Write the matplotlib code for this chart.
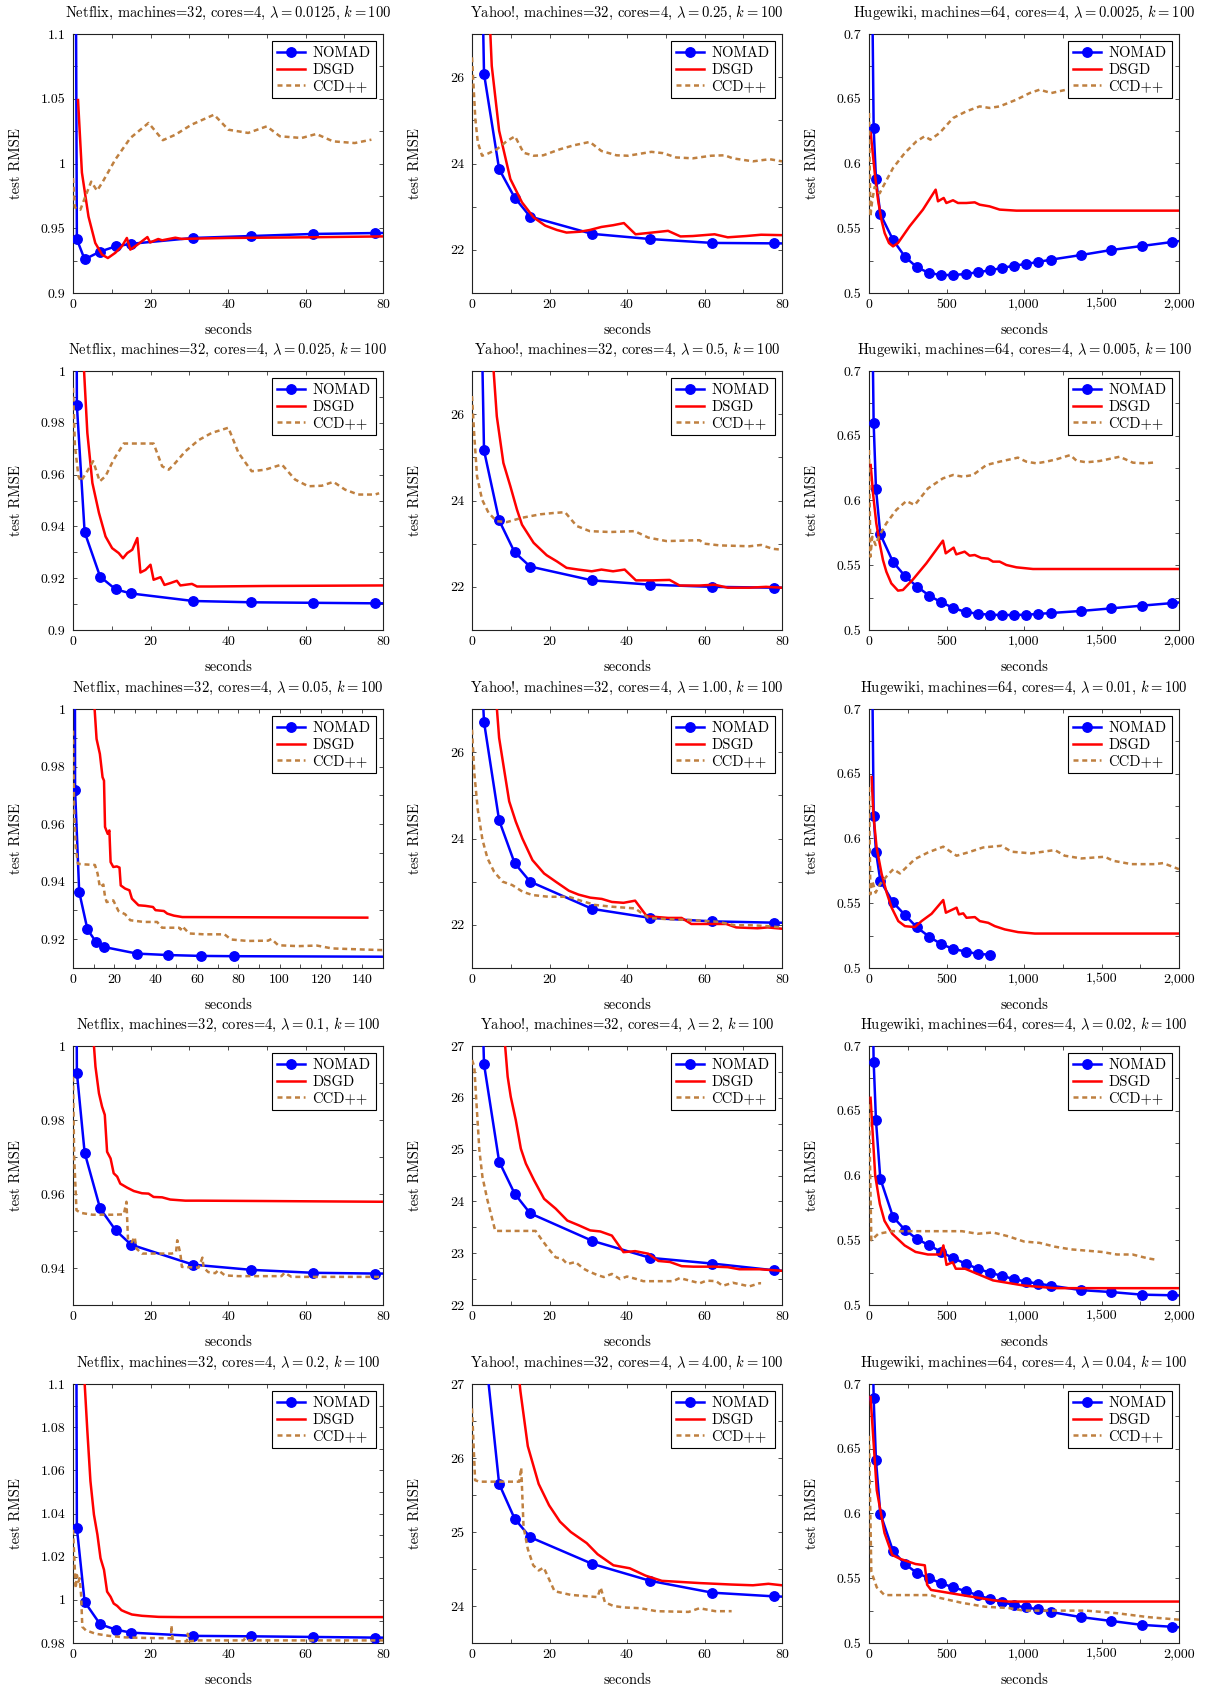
#!/usr/bin/env python3

"""Test RMSE vs. seconds for NOMAD, DSGD and CCD++ (Netflix, Yahoo!, Hugewiki)."""

import matplotlib
matplotlib.use('Agg')
import matplotlib.pyplot as plt
from matplotlib.ticker import MultipleLocator, FuncFormatter

# ---------------------------------------------------------------- data
# NOMAD is sampled at the same moments in every run of a data set
NF_NOMAD_T = [0.6, 1.0, 3.0, 7.0, 11.0, 15.0, 31.0, 46.0, 62.0, 78.0, 160.0]
YH_NOMAD_T = [2.4, 3.1, 7.0, 11.0, 15.0, 31.0, 46.0, 62.0, 78.0, 160.0]
HW_NOMAD_T = [15, 30, 45, 73, 155, 232, 310, 389, 466, 545, 623, 701, 779, 857,
              936, 1013, 1092, 1171, 1367, 1563, 1760, 1957, 2150]

# Netflix, lambda = 0.0125
nf1_nomad = [1.25, 0.9414, 0.926, 0.932, 0.936, 0.938, 0.9425, 0.944, 0.9456, 0.9463, 0.9475]
nf1_dsgd_t = [1.3, 2.3, 4.0, 5.75, 7.5, 9.0, 10.9, 12.6, 13.9, 14.8, 16.5, 19.2, 19.9, 22.0,
              23.0, 26.4, 28.0, 40.0, 60.0, 80.0]
nf1_dsgd = [1.049, 0.993, 0.959, 0.9386, 0.9296, 0.927, 0.931, 0.936, 0.9425, 0.9335, 0.937,
            0.9432, 0.939, 0.9417, 0.9407, 0.9427, 0.9418, 0.9425, 0.943, 0.9437]
nf1_ccd_t = [0, 0.5, 1.9, 3.2, 4.7, 6.2, 7.5, 10.9, 14.8, 19.5, 23.2, 26.4, 30.6, 36.4, 40.1,
             45.2, 50.0, 53.4, 59.0, 62.8, 67.1, 72.7, 77.0]
nf1_ccd = [0.9888, 0.966, 0.9643, 0.9746, 0.986, 0.979, 0.985, 1.003, 1.0197, 1.0313, 1.018,
           1.0222, 1.030, 1.0377, 1.0261, 1.0236, 1.0287, 1.021, 1.0197, 1.0228, 1.0171,
           1.0158, 1.0184]

# Netflix, lambda = 0.025
nf2_nomad = [1.2, 0.9868, 0.9378, 0.9206, 0.9157, 0.9141, 0.9112, 0.9107, 0.9105, 0.9103, 0.9100]
nf2_dsgd_t = [2.5, 3.7, 5.0, 6.7, 8.4, 10.1, 11.8, 12.9, 14.0, 15.3, 16.6, 17.4, 18.7, 20.0,
              20.8, 22.6, 23.6, 25.1, 26.8, 27.7, 30.7, 32.0, 35.8, 50.0, 80.0]
nf2_dsgd = [1.01, 0.9761, 0.9568, 0.9452, 0.9361, 0.9316, 0.9297, 0.9277, 0.9297, 0.931,
            0.9355, 0.9222, 0.9232, 0.9252, 0.9194, 0.9204, 0.9174, 0.9181, 0.919, 0.9172,
            0.9178, 0.9168, 0.9168, 0.917, 0.9172]
nf2_ccd_t = [0, 0.5, 1.4, 2.0, 3.4, 5.2, 6.9, 8.4, 10.5, 13.1, 17.0, 20.8, 23.0, 24.7, 26.4,
             29.0, 32.4, 35.8, 40.1, 42.7, 46.1, 49.6, 53.9, 57.3, 60.7, 64.2, 67.2, 70.2,
             73.6, 77.9, 79.0]
nf2_ccd = [0.9935, 0.971, 0.9594, 0.9574, 0.9606, 0.9652, 0.9574, 0.9594, 0.9658, 0.972,
           0.972, 0.972, 0.9632, 0.9619, 0.9645, 0.969, 0.9733, 0.9761, 0.9781, 0.9684,
           0.9613, 0.9619, 0.9639, 0.9581, 0.9555, 0.9557, 0.9572, 0.9542, 0.9523, 0.9523,
           0.9528]

# Netflix, lambda = 0.05
nf3_nomad = [1.2, 0.972, 0.9364, 0.9234, 0.9192, 0.9173, 0.915, 0.9145, 0.9142, 0.9141, 0.9139]
nf3_dsgd_t = [10.0, 11.4, 13.0, 14.3, 15.0, 15.5, 16.8, 17.6, 18.2, 19.5, 21.2, 22.5, 23.1,
              25.2, 27.3, 28.5, 31.7, 35.0, 38.7, 39.9, 44.0, 45.6, 48.8, 52.9, 142.4]
nf3_dsgd = [1.005, 0.9896, 0.9844, 0.9763, 0.9751, 0.959, 0.9566, 0.9578, 0.9468, 0.9451,
            0.9453, 0.9449, 0.9387, 0.9376, 0.937, 0.9341, 0.9318, 0.9316, 0.9312, 0.9301,
            0.9298, 0.9289, 0.9282, 0.9277, 0.9275]
nf3_ccd_t = [0, 0.5, 1.3, 2.4, 5.7, 10.6, 11.9, 13.0, 14.7, 15.5, 16.3, 19.5, 22.0, 25.2,
             27.7, 34.2, 40.7, 43.1, 51.3, 52.1, 52.9, 56.2, 63.5, 73.3, 76.5, 84.6, 94.4,
             96.0, 99.3, 109.0, 118.0, 125.3, 141.6, 151.0]
nf3_ccd = [0.9925, 0.9659, 0.952, 0.9462, 0.946, 0.9458, 0.9428, 0.9381, 0.939, 0.9347,
           0.9329, 0.9335, 0.9298, 0.9287, 0.9266, 0.926, 0.926, 0.924, 0.924, 0.9234,
           0.9245, 0.922, 0.9217, 0.9217, 0.9199, 0.9194, 0.9195, 0.9201, 0.9179, 0.9176,
           0.9178, 0.9168, 0.9164, 0.9162]

# Netflix, lambda = 0.1
nf4_nomad = [1.1, 0.9928, 0.9712, 0.9561, 0.9502, 0.9463, 0.9409, 0.9395, 0.9387, 0.9385, 0.9380]
nf4_dsgd_t = [5.2, 5.8, 6.7, 7.5, 8.2, 8.8, 9.7, 10.5, 11.4, 12.2, 14.0, 15.7, 17.8, 19.5,
              20.8, 23.0, 25.1, 29.0, 32.4, 49.5, 80.0]
nf4_dsgd = [1.003, 0.9944, 0.9872, 0.9836, 0.9814, 0.9714, 0.9696, 0.9656, 0.9647, 0.9628,
            0.9617, 0.9608, 0.9602, 0.9601, 0.9592, 0.9591, 0.9585, 0.9582, 0.9582, 0.9581,
            0.9579]
nf4_ccd_t = [0, 0.3, 0.9, 2.0, 5.0, 10.1, 13.1, 13.8, 14.2, 15.2, 15.9, 16.4, 17.8, 21.2,
             25.5, 26.6, 26.9, 27.7, 28.1, 32.4, 33.4, 33.7, 34.9, 36.7, 37.5, 39.2, 42.7,
             53.8, 54.6, 56.4, 80.0]
nf4_ccd = [0.9917, 0.9701, 0.9556, 0.9549, 0.9544, 0.9544, 0.9545, 0.9579, 0.9475, 0.947,
           0.9484, 0.9452, 0.9439, 0.9439, 0.9439, 0.9443, 0.9475, 0.9439, 0.9403, 0.9401,
           0.9428, 0.9401, 0.9389, 0.9386, 0.9394, 0.938, 0.9378, 0.9378, 0.9387, 0.9376,
           0.9376]

# Netflix, lambda = 0.2
nf5_nomad = [1.3, 1.0333, 0.9991, 0.9887, 0.9862, 0.9848, 0.9833, 0.9831, 0.9828, 0.9825, 0.9818]
nf5_dsgd_t = [2.7, 3.7, 4.5, 5.4, 6.3, 7.1, 8.0, 8.8, 9.7, 10.5, 11.4, 12.5, 13.5, 15.2,
              17.8, 22.1, 28.1, 80.0]
nf5_dsgd = [1.11, 1.0783, 1.055, 1.0395, 1.0302, 1.0193, 1.0139, 1.0038, 1.0014, 0.9983,
            0.9972, 0.9952, 0.9944, 0.9932, 0.9926, 0.9921, 0.992, 0.992]
nf5_ccd_t = [0, 0.3, 0.7, 1.0, 1.4, 1.7, 2.1, 2.4, 3.3, 5.8, 9.3, 13.5, 19.5, 25.3, 25.4,
             25.7, 25.9, 29.4, 29.6, 30.0, 32.4, 44.0, 44.4, 44.8, 80.0]
nf5_ccd = [1.0325, 1.0208, 1.0053, 1.0115, 1.0084, 1.01, 1.002, 0.9875, 0.9859, 0.9843,
           0.9833, 0.9826, 0.9823, 0.9822, 0.9882, 0.982, 0.9808, 0.9808, 0.9843, 0.9808,
           0.9812, 0.9812, 0.9822, 0.9812, 0.9812]

# Yahoo!, lambda = 0.25
yh1_nomad = [29.5, 26.08, 23.87, 23.21, 22.77, 22.37, 22.25, 22.16, 22.15, 22.10]
yh1_dsgd_t = [4.0, 5.1, 7.0, 9.9, 12.9, 15.9, 18.9, 21.9, 24.4, 27.9, 30.4, 33.4, 36.4, 39.2,
              42.2, 45.4, 50.6, 53.8, 57.0, 62.6, 66.0, 70.8, 74.6, 80.0]
yh1_dsgd = [28.5, 26.26, 24.76, 23.64, 23.1, 22.75, 22.56, 22.46, 22.4, 22.42, 22.46, 22.53,
            22.57, 22.62, 22.36, 22.39, 22.44, 22.31, 22.32, 22.36, 22.29, 22.32, 22.35, 22.34]
yh1_ccd_t = [0, 0.86, 1.5, 2.6, 3.9, 6.4, 9.0, 11.1, 13.3, 15.9, 18.4, 22.7, 26.2, 30.4, 33.4,
             37.3, 40.3, 46.3, 49.3, 52.7, 57.0, 61.7, 65.2, 67.3, 72.5, 76.8, 80.0]
yh1_ccd = [26.46, 25.03, 24.49, 24.18, 24.22, 24.33, 24.52, 24.63, 24.25, 24.18, 24.19, 24.33,
           24.42, 24.5, 24.29, 24.19, 24.18, 24.27, 24.24, 24.14, 24.12, 24.18, 24.19, 24.12,
           24.05, 24.1, 24.05]

# Yahoo!, lambda = 0.5
yh2_nomad = [28.5, 25.16, 23.54, 22.8, 22.47, 22.15, 22.05, 22.0, 21.98, 21.94]
yh2_dsgd_t = [4.8, 6.4, 8.1, 9.9, 11.6, 12.9, 15.9, 19.3, 21.9, 24.4, 27.4, 30.9, 33.4, 36.4,
              39.4, 42.3, 46.7, 51.0, 53.6, 58.7, 62.6, 66.0, 71.6, 75.9, 80.0]
yh2_dsgd = [28.0, 25.95, 24.87, 24.33, 23.79, 23.44, 23.02, 22.73, 22.59, 22.44, 22.4, 22.36,
            22.4, 22.36, 22.4, 22.15, 22.15, 22.16, 22.03, 22.03, 22.05, 21.98, 21.98, 22.0,
            21.98]
yh2_ccd_t = [0, 0.6, 1.3, 2.6, 4.3, 6.4, 9.0, 12.9, 17.6, 21.0, 24.0, 27.0, 30.4, 35.6, 42.0,
             45.5, 50.2, 58.7, 60.0, 63.9, 71.6, 74.6, 77.6, 80.0]
yh2_ccd = [26.42, 25.49, 24.56, 24.02, 23.71, 23.52, 23.5, 23.6, 23.68, 23.71, 23.73, 23.41,
           23.29, 23.27, 23.29, 23.14, 23.06, 23.08, 23.0, 22.96, 22.94, 22.97, 22.88, 22.86]

# Yahoo!, lambda = 1.00
yh3_nomad = [28.0, 26.7, 24.42, 23.43, 23.0, 22.37, 22.16, 22.08, 22.05, 22.0]
yh3_dsgd_t = [6.0, 7.0, 8.3, 9.6, 11.3, 13.0, 15.6, 18.6, 21.6, 25.0, 27.5, 30.5, 33.5, 36.1,
              39.1, 42.1, 45.1, 50.6, 54.1, 56.6, 62.2, 65.6, 68.2, 73.7, 76.3, 80.0]
yh3_dsgd = [27.5, 26.33, 25.59, 24.86, 24.39, 24.0, 23.5, 23.19, 23.0, 22.79, 22.7, 22.63,
            22.6, 22.53, 22.51, 22.56, 22.2, 22.16, 22.16, 22.02, 22.02, 22.02, 21.94, 21.92,
            21.94, 21.91]
yh3_ccd_t = [0, 0.6, 1.5, 2.7, 4.0, 5.7, 7.9, 10.4, 13.0, 15.6, 19.8, 25.0, 28.4, 31.8, 36.1,
             42.1, 45.5, 50.6, 56.6, 63.5, 67.8, 72.0, 76.3, 80.0]
yh3_ccd = [26.52, 25.51, 24.66, 23.97, 23.54, 23.23, 23.0, 22.92, 22.77, 22.69, 22.65, 22.65,
           22.55, 22.46, 22.42, 22.38, 22.16, 22.13, 22.11, 22.07, 21.99, 21.99, 21.97, 21.94]

# Yahoo!, lambda = 2
yh4_nomad = [28.5, 26.65, 24.77, 24.15, 23.77, 23.24, 22.91, 22.8, 22.67, 22.3]
yh4_dsgd_t = [8.0, 9.2, 10.0, 11.3, 12.6, 13.9, 16.0, 18.6, 21.6, 24.6, 27.5, 30.5, 33.1,
              36.1, 39.1, 42.1, 45.5, 48.1, 51.1, 54.1, 57.1, 62.6, 66.0, 69.0, 74.2, 80.0]
yh4_dsgd = [27.5, 26.41, 26.02, 25.57, 25.02, 24.73, 24.41, 24.05, 23.86, 23.63, 23.54, 23.44,
            23.42, 23.34, 23.02, 23.04, 22.99, 22.85, 22.83, 22.75, 22.74, 22.74, 22.73, 22.69,
            22.69, 22.66]
yh4_ccd_t = [0, 0.6, 1.0, 1.9, 2.7, 4.0, 6.0, 7.4, 16.4, 18.1, 19.8, 21.6, 23.3, 24.6, 26.7,
             28.8, 30.1, 32.3, 34.0, 36.1, 38.2, 40.0, 42.5, 44.2, 51.9, 53.6, 56.2, 58.8,
             60.5, 63.0, 64.7, 67.3, 71.6, 74.2, 74.6]
yh4_ccd = [26.73, 26.6, 26.08, 24.99, 24.47, 24.02, 23.43, 23.43, 23.43, 23.25, 23.08, 22.92,
           22.89, 22.79, 22.83, 22.7, 22.65, 22.58, 22.54, 22.6, 22.5, 22.55, 22.5, 22.46,
           22.46, 22.52, 22.47, 22.42, 22.47, 22.46, 22.37, 22.43, 22.36, 22.42, 22.42]

# Yahoo!, lambda = 4.00
yh5_nomad = [29.0, 27.6, 25.65, 25.18, 24.93, 24.57, 24.34, 24.18, 24.13, 24.0]
yh5_dsgd_t = [11.5, 12.5, 14.4, 17.2, 19.9, 22.7, 25.5, 29.6, 32.4, 36.5, 40.7, 44.8, 49.0,
              58.7, 67.0, 72.5, 76.5, 80.0]
yh5_dsgd = [27.4, 26.9, 26.16, 25.65, 25.36, 25.14, 25.0, 24.85, 24.7, 24.55, 24.51, 24.41,
            24.34, 24.31, 24.29, 24.28, 24.3, 24.28]
yh5_ccd_t = [0, 0.8, 1.9, 12.2, 12.7, 13.3, 14.4, 15.8, 17.2, 18.5, 19.9, 21.3, 25.5, 32.4,
             33.2, 34.3, 36.5, 39.3, 43.5, 47.6, 55.9, 58.7, 62.8, 67.0]
yh5_ccd = [26.67, 25.7, 25.68, 25.68, 25.87, 25.07, 24.77, 24.55, 24.48, 24.52, 24.36, 24.2,
           24.15, 24.12, 24.25, 24.05, 24.0, 23.98, 23.97, 23.93, 23.92, 23.97, 23.93, 23.93]

# Hugewiki, lambda = 0.0025
hw1_nomad = [0.8, 0.6274, 0.588, 0.561, 0.541, 0.528, 0.5198, 0.5154, 0.5139, 0.5139, 0.5147,
             0.516, 0.5175, 0.5193, 0.5211, 0.5224, 0.524, 0.5257, 0.5293, 0.5332, 0.5363,
             0.5394, 0.5425]
hw1_dsgd_t = [11, 37, 58, 80, 101, 129, 155, 187, 262, 348, 430, 445, 482, 499, 542, 574,
              628, 682, 714, 778, 843, 951, 2000]
hw1_dsgd = [0.6235, 0.5927, 0.572, 0.5566, 0.5463, 0.5386, 0.536, 0.5386, 0.5515, 0.5644,
            0.5798, 0.5708, 0.5734, 0.5695, 0.5716, 0.5695, 0.5695, 0.57, 0.5682, 0.5669,
            0.5644, 0.5636, 0.5636]
hw1_ccd_t = [0, 9, 21, 37, 69, 90, 155, 230, 305, 359, 396, 456, 542, 628, 714, 778, 843, 951,
             1037, 1101, 1176, 1273, 1500, 1850]
hw1_ccd = [0.639, 0.559, 0.572, 0.582, 0.577, 0.582, 0.5965, 0.608, 0.617, 0.621, 0.6184,
           0.6236, 0.6351, 0.6403, 0.6441, 0.6429, 0.6441, 0.6493, 0.6544, 0.657, 0.6544,
           0.657, 0.66, 0.662]

# Hugewiki, lambda = 0.005
hw2_nomad = [0.8, 0.6598, 0.6091, 0.5739, 0.5525, 0.5417, 0.5335, 0.5265, 0.5214, 0.517,
             0.5139, 0.5126, 0.5118, 0.5116, 0.5116, 0.5118, 0.5124, 0.5131, 0.5147, 0.5167,
             0.5188, 0.5208, 0.5228]
hw2_dsgd_t = [11, 26, 47, 69, 90, 112, 144, 187, 219, 284, 370, 477, 495, 546, 563, 617, 649,
              682, 725, 768, 800, 843, 886, 951, 1058, 2000]
hw2_dsgd = [0.6274, 0.6055, 0.5824, 0.5669, 0.5541, 0.545, 0.536, 0.5304, 0.5309, 0.5391,
            0.5515, 0.569, 0.5592, 0.5636, 0.5584, 0.5605, 0.5574, 0.5579, 0.5556, 0.5551,
            0.5528, 0.5528, 0.5502, 0.5484, 0.5471, 0.5471]
hw2_ccd_t = [0, 9, 21, 43, 69, 112, 176, 241, 295, 381, 477, 542, 606, 671, 757, 843, 961,
             1015, 1080, 1144, 1209, 1299, 1338, 1402, 1488, 1617, 1703, 1778, 1854]
hw2_ccd = [0.639, 0.5566, 0.572, 0.5656, 0.5734, 0.5824, 0.5927, 0.5996, 0.5965, 0.6094,
           0.6171, 0.6197, 0.6184, 0.6197, 0.6274, 0.63, 0.6331, 0.63, 0.6287, 0.63, 0.6318,
           0.6351, 0.6308, 0.6295, 0.6305, 0.6338, 0.6292, 0.6287, 0.6295]

# Hugewiki, lambda = 0.01
hw3_nomad = [0.8, 0.6175, 0.5898, 0.5675, 0.5507, 0.5409, 0.5313, 0.5241, 0.5184, 0.5147,
             0.5127, 0.5109, 0.5103]
hw3_dsgd_t = [17, 28, 49, 82, 114, 146, 189, 232, 296, 339, 404, 479, 496, 565, 580, 608, 629,
              683, 715, 769, 812, 876, 962, 1070, 2000]
hw3_dsgd = [0.6475, 0.619, 0.5931, 0.5724, 0.5582, 0.5466, 0.5362, 0.5323, 0.5316, 0.5362,
            0.5419, 0.5525, 0.5427, 0.5466, 0.5414, 0.5422, 0.5388, 0.5393, 0.5362, 0.5349,
            0.5323, 0.5298, 0.5277, 0.5266, 0.5266]
hw3_ccd_t = [0, 9, 21, 43, 71, 125, 157, 200, 296, 382, 479, 565, 640, 737, 855, 919, 1048,
             1199, 1263, 1371, 1521, 1575, 1693, 1843, 1897, 2000]
hw3_ccd = [0.6397, 0.5569, 0.5673, 0.5582, 0.5647, 0.5724, 0.5763, 0.573, 0.5841, 0.5893,
           0.5937, 0.5867, 0.5893, 0.5931, 0.5944, 0.5898, 0.5885, 0.5911, 0.5867, 0.5846,
           0.5859, 0.5828, 0.5802, 0.5802, 0.581, 0.5763]

# Hugewiki, lambda = 0.02
hw4_nomad = [0.8, 0.688, 0.6425, 0.5975, 0.568, 0.558, 0.551, 0.546, 0.541, 0.536, 0.532,
             0.528, 0.525, 0.5225, 0.52, 0.518, 0.5165, 0.515, 0.5115, 0.51, 0.508, 0.5075,
             0.507]
hw4_dsgd_t = [10, 40, 70, 100, 150, 230, 300, 380, 460, 480, 500, 540, 560, 620, 700, 800,
              900, 1000, 1200, 2000]
hw4_dsgd = [0.66, 0.6, 0.578, 0.565, 0.555, 0.546, 0.541, 0.539, 0.539, 0.546, 0.531, 0.533,
            0.528, 0.528, 0.524, 0.519, 0.517, 0.515, 0.513, 0.513]
hw4_ccd_t = [0, 15, 60, 150, 600, 700, 800, 900, 1000, 1100, 1200, 1300, 1500, 1600, 1700,
             1800, 1850]
hw4_ccd = [0.655, 0.55, 0.555, 0.557, 0.557, 0.555, 0.556, 0.553, 0.549, 0.548, 0.545, 0.543,
           0.541, 0.539, 0.539, 0.536, 0.535]

# Hugewiki, lambda = 0.04
hw5_nomad = [0.8, 0.689, 0.641, 0.6, 0.571, 0.561, 0.554, 0.55, 0.546, 0.543, 0.540, 0.537,
             0.534, 0.532, 0.529, 0.5275, 0.526, 0.524, 0.52, 0.517, 0.514, 0.5125, 0.511]
hw5_dsgd_t = [10, 50, 100, 150, 200, 250, 300, 360, 375, 400, 500, 600, 700, 800, 900, 2000]
hw5_dsgd = [0.69, 0.618, 0.585, 0.568, 0.565, 0.563, 0.561, 0.56, 0.545, 0.541, 0.539, 0.537,
            0.535, 0.533, 0.532, 0.532]
hw5_ccd_t = [0, 15, 50, 100, 400, 450, 600, 750, 900, 1000, 1400, 1600, 1800, 2000]
hw5_ccd = [0.66, 0.555, 0.543, 0.537, 0.537, 0.535, 0.531, 0.528, 0.527, 0.525, 0.525, 0.523,
           0.52, 0.518]

# ---------------------------------------------------------------- style
BLUE = '#0000ff'
RED = '#ff0000'
BROWN = '#bf8040'
FIG_W, FIG_H = 1207, 1687
COL_LEFT = [73, 472, 869]
ROW_TOP = [34, 371, 709, 1046, 1384]
AX_W, AX_H = 310, 259


def tick_fmt(val, _pos):
  """pgfplots-like number: no trailing zeros, comma for thousands."""
  txt = f'{val:,.4f}'.rstrip('0').rstrip('.')
  return '0' if txt in ('-0', '') else txt


def draw_panel(fig, row, col, title, xlim, xstep, ylim, ystep, nomad, dsgd, ccd):
  """One small test-RMSE panel."""
  rect = [COL_LEFT[col] / FIG_W, 1 - (ROW_TOP[row] + AX_H) / FIG_H, AX_W / FIG_W, AX_H / FIG_H]
  ax = fig.add_axes(rect)
  ax.plot(nomad[0], nomad[1], color=BLUE, lw=1.8, marker='o', ms=6.8, label='NOMAD', zorder=3)
  ax.plot(dsgd[0], dsgd[1], color=RED, lw=1.8, label='DSGD', zorder=4)
  ax.plot(ccd[0], ccd[1], color=BROWN, lw=1.8, dashes=(2.0, 1.5), label='CCD++', zorder=5)

  ax.set_xlim(*xlim)
  ax.set_ylim(*ylim)
  ax.xaxis.set_major_locator(MultipleLocator(xstep))
  ax.xaxis.set_minor_locator(MultipleLocator(xstep / 2))
  ax.yaxis.set_major_locator(MultipleLocator(ystep))
  ax.yaxis.set_minor_locator(MultipleLocator(ystep / 2))
  ax.xaxis.set_major_formatter(FuncFormatter(tick_fmt))
  ax.yaxis.set_major_formatter(FuncFormatter(tick_fmt))
  ax.tick_params(which='both', direction='in', top=True, right=True, length=3, width=0.6,
                 color='#333333', labelsize=10)
  ax.tick_params(axis='y', pad=5.5)
  ax.tick_params(axis='x', pad=4)
  for spine in ax.spines.values():
    spine.set_linewidth(0.8)
    spine.set_color('#222222')

  ax.set_title(title, pad=12, fontsize=10.5)
  ax.set_xlabel('seconds')
  ax.set_ylabel('test RMSE')
  ax.xaxis.set_label_coords(0.5, -0.115)
  ax.yaxis.set_label_coords(-0.16, 0.5)

  leg = ax.legend(loc='upper right', fancybox=False, edgecolor='black', framealpha=1,
                  borderaxespad=0.5, borderpad=0.35, handlelength=1.9, handletextpad=0.5,
                  labelspacing=0.2)
  leg.get_frame().set_linewidth(0.8)
  leg.set_zorder(10)


def main():
  """Build the 5 x 3 grid."""
  plt.rcParams['font.family'] = 'cmr10'
  plt.rcParams['mathtext.fontset'] = 'cm'
  plt.rcParams['axes.formatter.use_mathtext'] = True
  plt.rcParams['font.size'] = 10.5

  fig = plt.figure(figsize=(FIG_W / 100, FIG_H / 100), dpi=100)

  nf = 'Netflix, machines=32, cores=4, '
  yh = 'Yahoo!, machines=32, cores=4, '
  hw = 'Hugewiki, machines=64, cores=4, '
  kk = r', $k = 100$'

  panels = [
    (0, 0, nf + r'$\lambda = 0.0125$' + kk, (0, 80), 20, (0.9, 1.1), 0.05,
     (NF_NOMAD_T, nf1_nomad), (nf1_dsgd_t, nf1_dsgd), (nf1_ccd_t, nf1_ccd)),
    (1, 0, nf + r'$\lambda = 0.025$' + kk, (0, 80), 20, (0.9, 1.0), 0.02,
     (NF_NOMAD_T, nf2_nomad), (nf2_dsgd_t, nf2_dsgd), (nf2_ccd_t, nf2_ccd)),
    (2, 0, nf + r'$\lambda = 0.05$' + kk, (0, 150), 20, (0.91, 1.0), 0.02,
     (NF_NOMAD_T, nf3_nomad), (nf3_dsgd_t, nf3_dsgd), (nf3_ccd_t, nf3_ccd)),
    (3, 0, nf + r'$\lambda = 0.1$' + kk, (0, 80), 20, (0.93, 1.0), 0.02,
     (NF_NOMAD_T, nf4_nomad), (nf4_dsgd_t, nf4_dsgd), (nf4_ccd_t, nf4_ccd)),
    (4, 0, nf + r'$\lambda = 0.2$' + kk, (0, 80), 20, (0.98, 1.1), 0.02,
     (NF_NOMAD_T, nf5_nomad), (nf5_dsgd_t, nf5_dsgd), (nf5_ccd_t, nf5_ccd)),
    (0, 1, yh + r'$\lambda = 0.25$' + kk, (0, 80), 20, (21, 27), 2,
     (YH_NOMAD_T, yh1_nomad), (yh1_dsgd_t, yh1_dsgd), (yh1_ccd_t, yh1_ccd)),
    (1, 1, yh + r'$\lambda = 0.5$' + kk, (0, 80), 20, (21, 27), 2,
     (YH_NOMAD_T, yh2_nomad), (yh2_dsgd_t, yh2_dsgd), (yh2_ccd_t, yh2_ccd)),
    (2, 1, yh + r'$\lambda = 1.00$' + kk, (0, 80), 20, (21, 27), 2,
     (YH_NOMAD_T, yh3_nomad), (yh3_dsgd_t, yh3_dsgd), (yh3_ccd_t, yh3_ccd)),
    (3, 1, yh + r'$\lambda = 2$' + kk, (0, 80), 20, (22, 27), 1,
     (YH_NOMAD_T, yh4_nomad), (yh4_dsgd_t, yh4_dsgd), (yh4_ccd_t, yh4_ccd)),
    (4, 1, yh + r'$\lambda = 4.00$' + kk, (0, 80), 20, (23.5, 27), 1,
     (YH_NOMAD_T, yh5_nomad), (yh5_dsgd_t, yh5_dsgd), (yh5_ccd_t, yh5_ccd)),
    (0, 2, hw + r'$\lambda = 0.0025$' + kk, (0, 2000), 500, (0.5, 0.7), 0.05,
     (HW_NOMAD_T, hw1_nomad), (hw1_dsgd_t, hw1_dsgd), (hw1_ccd_t, hw1_ccd)),
    (1, 2, hw + r'$\lambda = 0.005$' + kk, (0, 2000), 500, (0.5, 0.7), 0.05,
     (HW_NOMAD_T, hw2_nomad), (hw2_dsgd_t, hw2_dsgd), (hw2_ccd_t, hw2_ccd)),
    (2, 2, hw + r'$\lambda = 0.01$' + kk, (0, 2000), 500, (0.5, 0.7), 0.05,
     (HW_NOMAD_T[:len(hw3_nomad)], hw3_nomad), (hw3_dsgd_t, hw3_dsgd), (hw3_ccd_t, hw3_ccd)),
    (3, 2, hw + r'$\lambda = 0.02$' + kk, (0, 2000), 500, (0.5, 0.7), 0.05,
     (HW_NOMAD_T, hw4_nomad), (hw4_dsgd_t, hw4_dsgd), (hw4_ccd_t, hw4_ccd)),
    (4, 2, hw + r'$\lambda = 0.04$' + kk, (0, 2000), 500, (0.5, 0.7), 0.05,
     (HW_NOMAD_T, hw5_nomad), (hw5_dsgd_t, hw5_dsgd), (hw5_ccd_t, hw5_ccd)),
  ]
  for panel in panels:
    draw_panel(fig, *panel)

  fig.savefig('out.png', dpi=100)


if __name__ == "__main__":
  main()
